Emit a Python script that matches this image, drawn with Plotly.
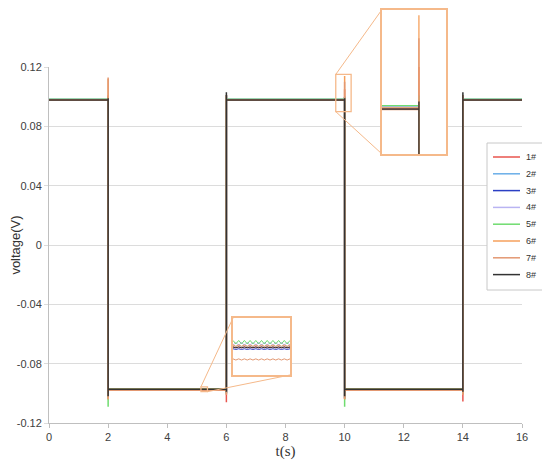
import numpy as np
import plotly.graph_objects as go

# --- data ---
channels = ["1#", "2#", "3#", "4#", "5#", "6#", "7#", "8#"]
colors = ["#e8554e", "#6aaee8", "#2b3fc4", "#b9b4f2", "#6fdc6f", "#f6a15c", "#e39872", "#333333"]

# time points of the square wave (edges at 2, 6, 10, 14 s)
t = [0, 2, 2, 2, 2, 6, 6, 6, 6, 10, 10, 10, 10, 14, 14, 14, 14, 16]

# settled levels (V)
high = [0.0978, 0.0981, 0.0977, 0.0982, 0.0983, 0.0979, 0.0976, 0.0977]
low = [-0.0973, -0.0972, -0.0974, -0.0971, -0.0970, -0.0972, -0.0980, -0.0973]

# spikes at each edge: falling edges (2 s, 10 s) -> overshoot, undershoot
over_2 = [0.101, 0.100, 0.100, 0.100, 0.100, 0.112, 0.113, 0.099]
under_2 = [-0.104, -0.103, -0.103, -0.103, -0.109, -0.104, -0.104, -0.102]
over_10 = [0.105, 0.100, 0.100, 0.100, 0.100, 0.114, 0.110, 0.099]
under_10 = [-0.104, -0.103, -0.103, -0.103, -0.109, -0.104, -0.104, -0.102]
# rising edges (6 s, 14 s) -> undershoot, overshoot
under_6 = [-0.106, -0.100, -0.100, -0.100, -0.100, -0.101, -0.101, -0.099]
over_6 = [0.101, 0.101, 0.101, 0.101, 0.101, 0.101, 0.101, 0.103]
under_14 = [-0.1055, -0.100, -0.100, -0.100, -0.100, -0.101, -0.101, -0.099]
over_14 = [0.101, 0.101, 0.101, 0.101, 0.101, 0.101, 0.101, 0.103]

# zoomed windows (t range, v range)
zoom1_t = [9.70, 10.22]
zoom1_v = [0.0899, 0.115]
zoom2_t = [5.14, 5.36]
zoom2_v = [-0.0989, -0.0956]

# ripple on the low level inside window 2
ripple_t = [5.14, 5.151, 5.162, 5.173, 5.184, 5.195, 5.206, 5.217, 5.228, 5.239, 5.25,
            5.261, 5.272, 5.283, 5.294, 5.305, 5.316, 5.327, 5.338, 5.349, 5.36]
ripple = [0.0001, -0.0001, 0.0001, -0.0001, 0.0001, -0.0001, 0.0001, -0.0001, 0.0001, -0.0001, 0.0001,
          -0.0001, 0.0001, -0.0001, 0.0001, -0.0001, 0.0001, -0.0001, 0.0001, -0.0001, 0.0001]
ripple_gain = [0.3, 0.6, 0.2, -0.9, 1.0, 0.4, 0.35, 0.2]

y_ticks = [0.12, 0.08, 0.04, 0, -0.04, -0.08, -0.12]
y_tick_text = ["0.12", "0.08", "0.04", "0", "-0.04", "-0.08", "-0.12"]
x_ticks = [0, 2, 4, 6, 8, 10, 12, 14, 16]

# --- layout geometry ---
# the page puts the figure 8px in from the top-left, so the figure is 8px smaller
# and all pixel positions below are given in window pixels
OFF = 8
W, H = 550 - OFF, 462 - OFF
PLOT_L, PLOT_R, PLOT_T, PLOT_B = 49, 522, 67, 423
M_L, M_R, M_T, M_B = PLOT_L - OFF, 5, 0, 462 - PLOT_B
PW, PH = W - M_L - M_R, H - M_T - M_B


def px_x(px):
    return (px - OFF - M_L) / PW


def px_y(py):
    return (H - M_B - (py - OFF)) / PH


MAIN_X = [0, px_x(PLOT_R)]
MAIN_Y = [0, px_y(PLOT_T)]
INSET1_X = [px_x(382), px_x(446)]
INSET1_Y = [px_y(154), px_y(9.5)]
INSET2_X = [px_x(233), px_x(290)]
INSET2_Y = [px_y(375), px_y(318)]
ORANGE = "#f5b98a"


def to_paper(tv, vv):
    return (MAIN_X[0] + tv / 16.0 * (MAIN_X[1] - MAIN_X[0]),
            MAIN_Y[0] + (vv + 0.12) / 0.24 * (MAIN_Y[1] - MAIN_Y[0]))


fig = go.Figure()

for i, name in enumerate(channels):
    v = [high[i], high[i], over_2[i], under_2[i], low[i],
         low[i], under_6[i], over_6[i], high[i],
         high[i], over_10[i], under_10[i], low[i],
         low[i], under_14[i], over_14[i], high[i], high[i]]
    fig.add_trace(go.Scatter(x=t, y=v, mode="lines", name=name,
                             line=dict(color=colors[i], width=1.5)))
    fig.add_trace(go.Scatter(x=t, y=v, mode="lines", showlegend=False,
                             line=dict(color=colors[i], width=1.3),
                             xaxis="x2", yaxis="y2"))
    vr = low[i] + np.array(ripple) * ripple_gain[i]
    fig.add_trace(go.Scatter(x=ripple_t, y=vr, mode="lines", showlegend=False,
                             line=dict(color=colors[i], width=1),
                             xaxis="x3", yaxis="y3"))

shapes = []
annotations = []
# small boxes marking the zoomed windows
for zt, zv in [(zoom1_t, zoom1_v), (zoom2_t, zoom2_v)]:
    shapes.append(dict(type="rect", xref="x", yref="y", x0=zt[0], x1=zt[1], y0=zv[0], y1=zv[1],
                       line=dict(color=ORANGE, width=1.3)))

# connector lines
conn = [((zoom1_t[0], zoom1_v[1]), (INSET1_X[0], INSET1_Y[1])),
        ((zoom1_t[0], zoom1_v[0]), (INSET1_X[0], INSET1_Y[0])),
        ((zoom2_t[0], zoom2_v[1]), (INSET2_X[0], INSET2_Y[1])),
        ((zoom2_t[1], zoom2_v[0]), (INSET2_X[1], INSET2_Y[0]))]
for (tv, vv), (qx, qy) in conn:
    p = to_paper(tv, vv)
    shapes.append(dict(type="line", xref="paper", yref="paper", x0=p[0], y0=p[1],
                       x1=qx, y1=qy, line=dict(color=ORANGE, width=1)))

# legend box drawn by hand to match the compact original
shapes.append(dict(type="rect", xref="paper", yref="paper",
                   x0=px_x(487), x1=px_x(543), y0=px_y(290), y1=px_y(143),
                   line=dict(color="#c8c8c8", width=1), fillcolor="white", layer="above"))
for i, name in enumerate(channels):
    yy = px_y(157 + i * 16.8)
    shapes.append(dict(type="line", xref="paper", yref="paper",
                       x0=px_x(493), x1=px_x(520), y0=yy, y1=yy,
                       line=dict(color=colors[i], width=1.5), layer="above"))
    annotations.append(dict(text=name, xref="paper", yref="paper", x=px_x(524), y=yy,
                            xanchor="left", yanchor="middle", showarrow=False,
                            font=dict(size=9, color="#333333")))

inset_axis = dict(showgrid=False, zeroline=False, showticklabels=False, ticks="",
                  showline=True, mirror=True, linecolor=ORANGE, linewidth=1.5, automargin=False)

fig.update_layout(
    width=W, height=H,
    margin=dict(l=M_L, r=M_R, t=M_T, b=M_B),
    paper_bgcolor="white", plot_bgcolor="white",
    font=dict(family="Liberation Sans", size=11, color="#404040"),
    showlegend=False,
    xaxis=dict(domain=MAIN_X, range=[0, 16], tickvals=x_ticks, showgrid=False, zeroline=False,
               showline=True, linecolor="#bfbfbf", ticks="outside", ticklen=4, tickcolor="#bfbfbf",
               automargin=False,
               title=dict(text="t(s)", font=dict(family="Liberation Serif", size=15, color="#333333"),
                          standoff=0)),
    yaxis=dict(domain=MAIN_Y, range=[-0.12, 0.12], tickvals=y_ticks, ticktext=y_tick_text,
               showgrid=True, gridcolor="#dcdcdc", zeroline=False,
               showline=True, linecolor="#bfbfbf", ticks="outside", ticklen=4, tickcolor="#dcdcdc",
               automargin=False,
               title=dict(text="voltage(V)", font=dict(size=13, color="#333333"), standoff=6)),
    xaxis2=dict(domain=INSET1_X, range=zoom1_t, anchor="y2", **inset_axis),
    yaxis2=dict(domain=INSET1_Y, range=zoom1_v, anchor="x2", **inset_axis),
    xaxis3=dict(domain=INSET2_X, range=zoom2_t, anchor="y3", **inset_axis),
    yaxis3=dict(domain=INSET2_Y, range=zoom2_v, anchor="x3", **inset_axis),
    shapes=shapes,
    annotations=annotations,
)

fig.write_html("out.html")
